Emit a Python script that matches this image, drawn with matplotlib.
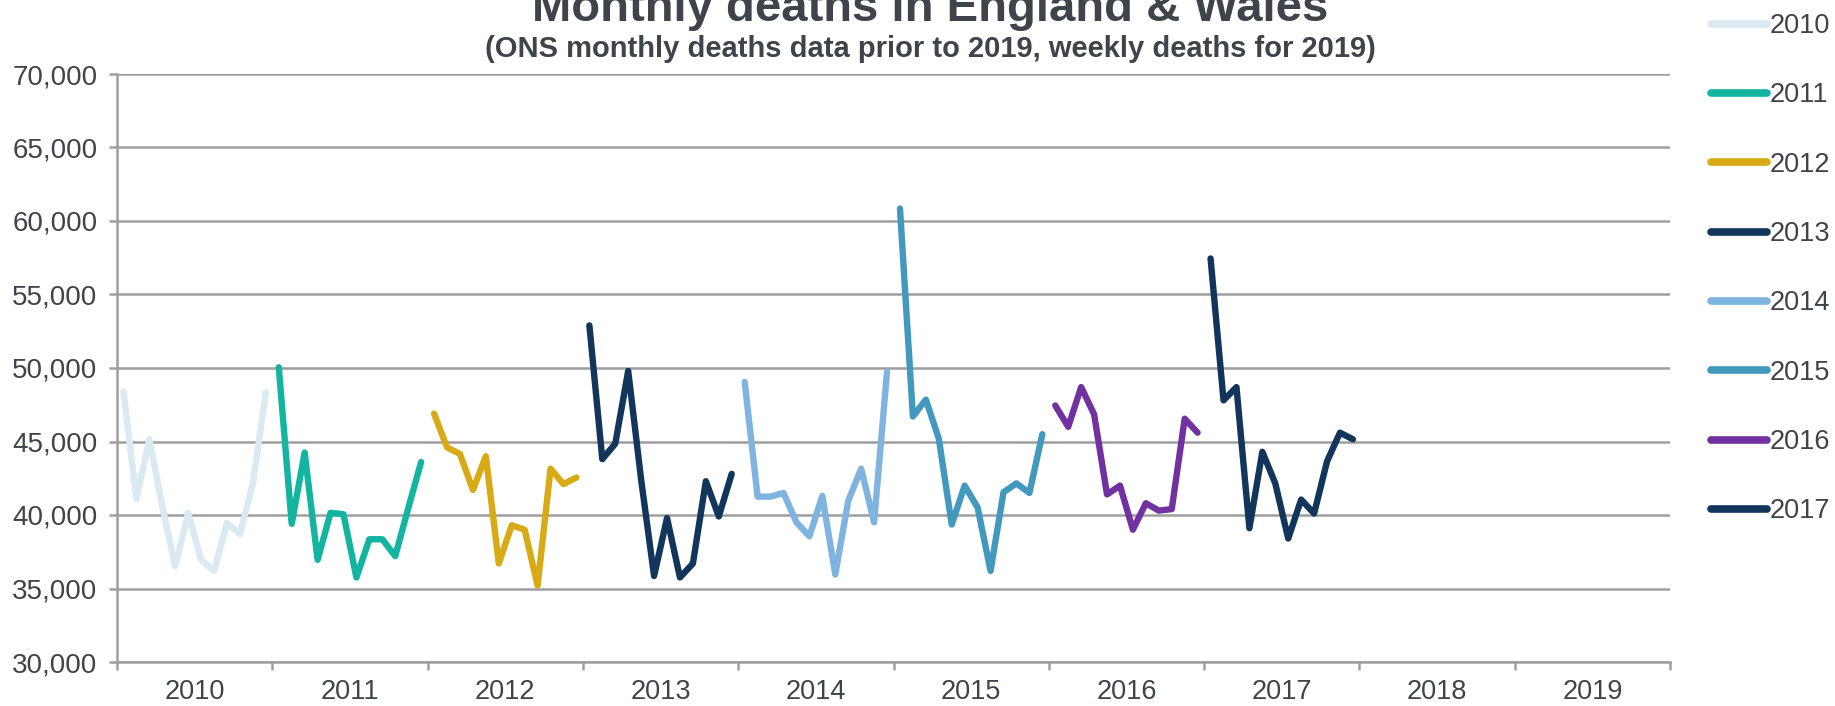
import numpy as np
import matplotlib.pyplot as plt

plt.rcParams['font.family'] = ['Liberation Sans', 'DejaVu Sans']

# monthly deaths, Jan..Dec
years = ['2010', '2011', '2012', '2013', '2014', '2015', '2016', '2017']
d2010 = [48400, 41100, 45150, 40600, 36500, 40150, 36950, 36200, 39450, 38700, 42150, 48350]
d2011 = [50050, 39400, 44250, 36950, 40150, 40050, 35750, 38350, 38350, 37200, 40450, 43600]
d2012 = [46900, 44600, 44150, 41700, 44000, 36700, 39300, 39000, 35200, 43150, 42100, 42550]
d2013 = [52900, 43800, 44850, 49800, 42400, 35850, 39800, 35750, 36700, 42300, 39900, 42800]
d2014 = [49050, 41250, 41250, 41500, 39500, 38550, 41300, 35950, 40950, 43150, 39500, 49750]
d2015 = [60850, 46700, 47850, 45200, 39350, 42000, 40500, 36200, 41550, 42150, 41500, 45500]
d2016 = [47450, 46000, 48700, 46850, 41400, 42000, 39000, 40800, 40300, 40400, 46550, 45600]
d2017 = [57450, 47800, 48700, 39100, 44300, 42150, 38400, 41050, 40100, 43650, 45600, 45150]
series = [d2010, d2011, d2012, d2013, d2014, d2015, d2016, d2017]
colors = ['#d9eaf2', '#13b4a0', '#d8aa16', '#12355b', '#7fb4e0', '#4398be', '#7131a1', '#12355b']
cat_labels = ['2010', '2011', '2012', '2013', '2014', '2015', '2016', '2017', '2018', '2019']

txt = '#3e444a'
grid = '#9e9e9e'

fig = plt.figure(figsize=(18.35, 7.06), dpi=100)
ax = fig.add_axes([117/1835, 1-662/706, (1670-117)/1835, (662-74)/706])

for i in range(len(series)):
    x = i + (np.arange(12) + 0.5) / 12
    ax.plot(x, series[i], color=colors[i], lw=4.6, label=years[i],
            solid_capstyle='round', solid_joinstyle='round')

ax.set_xlim(0, len(cat_labels))
ax.set_ylim(30000, 70000)
ax.set_yticks(np.arange(30000, 70001, 5000))
ax.set_yticklabels(['{:,}'.format(v) for v in range(30000, 70001, 5000)])
ax.set_xticks(range(len(cat_labels) + 1))
ax.set_xticklabels([])
ax.set_xticks(np.arange(len(cat_labels)) + 0.5, minor=True)
ax.set_xticklabels(cat_labels, minor=True)

ax.grid(axis='y', color=grid, lw=1.8)
ax.set_axisbelow(True)
for s in ['top', 'right']:
    ax.spines[s].set_visible(False)
for s in ['left', 'bottom']:
    ax.spines[s].set_color(grid)
    ax.spines[s].set_linewidth(1.8)

ax.tick_params(axis='y', length=6, width=1.8, color=grid, pad=8, labelsize=20, labelcolor=txt)
ax.tick_params(axis='x', which='major', length=6, width=1.8, color=grid)
ax.tick_params(axis='x', which='minor', length=0, pad=12, labelsize=19.5, labelcolor=txt)

fig.text(930/1835, 1-21/706, 'Monthly deaths in England & Wales', ha='center', va='baseline',
         fontsize=34, fontweight='bold', color=txt)
fig.text(930/1835, 1-57/706, '(ONS monthly deaths data prior to 2019, weekly deaths for 2019)',
         ha='center', va='baseline', fontsize=21, fontweight='bold', color=txt)

leg = ax.legend(loc='upper left', bbox_to_anchor=(1711/1835, 1-13/706), bbox_transform=fig.transFigure,
                frameon=False, fontsize=19.5, handlelength=2.05, handletextpad=0.1,
                labelspacing=1.60, borderpad=0, borderaxespad=0)
for t in leg.get_texts():
    t.set_color(txt)
for l in leg.get_lines():
    l.set_linewidth(5.5)

fig.savefig('out.png', dpi=100)
